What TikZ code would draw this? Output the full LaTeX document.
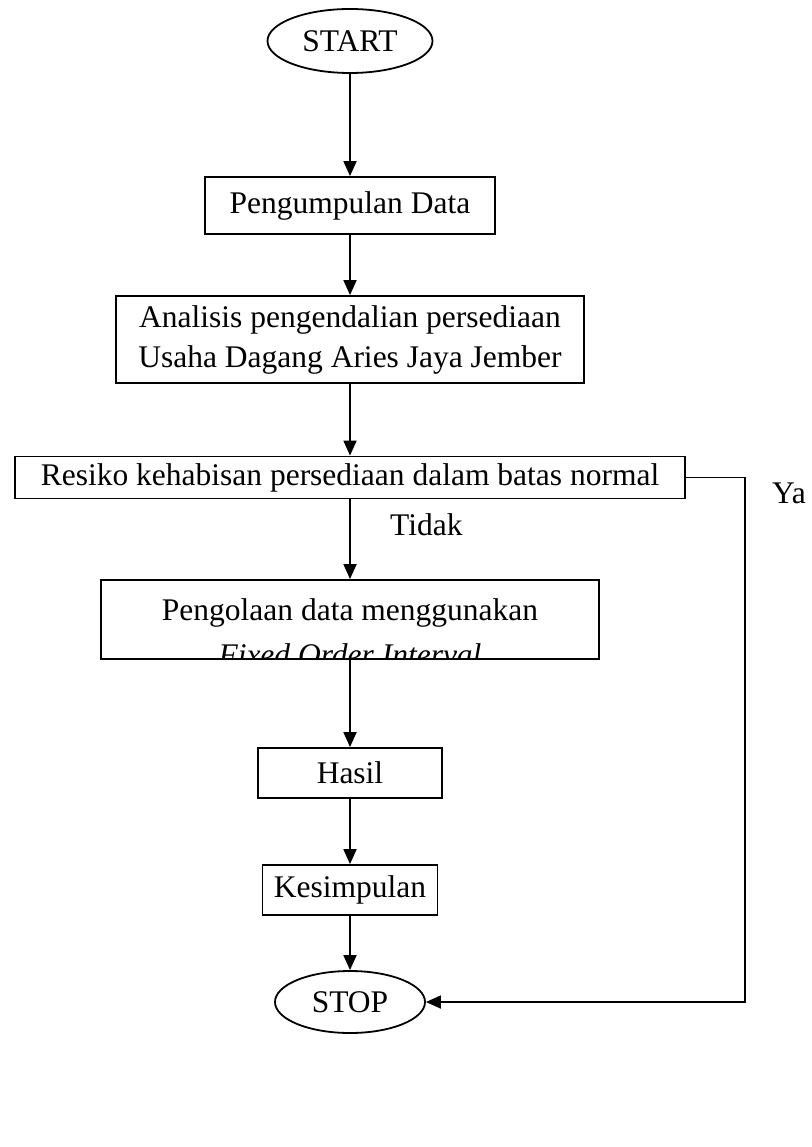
\documentclass[tikz,border=0pt]{standalone}
\usepackage{fontspec}
\setmainfont{Liberation Serif}
\usetikzlibrary{arrows.meta,shapes.geometric}
\begin{document}
\begin{tikzpicture}[x=1pt,y=-1pt,
  txt/.style={font=\fontsize{31.5}{40}\selectfont},
  box/.style={txt,draw,line width=1.8pt,rectangle,inner sep=0pt},
  term/.style={txt,draw,line width=1.8pt,ellipse,inner sep=0pt},
  lbl/.style={txt,inner sep=0pt},
  arr/.style={line width=1.8pt,-{Triangle[length=15pt,width=13pt]}},
]
\useasboundingbox[fill=white] (0,0) rectangle (811,1147);

\node[term,minimum width=165pt,minimum height=64pt] (start) at (350,41) {START};
\node[box,minimum width=290pt,minimum height=57pt] (kumpul) at (350,205.5) {Pengumpulan Data};
\node[box,minimum width=468pt,minimum height=87pt,align=center] (analisis) at (350,339.5) {Analisis pengendalian persediaan\\Usaha Dagang Aries Jaya Jember};
\node[box,minimum width=670pt,minimum height=42pt] (resiko) at (350,477.5) {Resiko kehabisan persediaan dalam batas normal};
\node[box,minimum width=498pt,minimum height=79pt] (olah) at (350,619.5) {};
\begin{scope}
\clip (olah.south west) rectangle (olah.north east);
\node[lbl,anchor=base] (olah1) at (350,620) {Pengolaan data menggunakan};
\node[lbl,anchor=base,font=\fontsize{31.5}{40}\selectfont\itshape] (olah2) at (350,665) {Fixed Order Interval};
\end{scope}
\node[box,minimum width=184pt,minimum height=50pt] (hasil) at (350,773) {Hasil};
\node[box,minimum width=175pt,minimum height=50pt] (kesimpulan) at (350,890) {Kesimpulan};
\node[term,minimum width=150pt,minimum height=62pt] (stop) at (350,1002) {STOP};

\node[lbl,anchor=west] (tidak) at (390,525) {Tidak};
\node[lbl,anchor=west] (ya) at (772,493) {Ya};

\draw[arr] (start.south) -- (kumpul.north);
\draw[arr] (kumpul.south) -- (analisis.north);
\draw[arr] (analisis.south) -- (resiko.north);
\draw[arr] (resiko.south) -- (olah.north);
\draw[arr] (olah.south) -- (hasil.north);
\draw[arr] (hasil.south) -- (kesimpulan.north);
\draw[arr] (kesimpulan.south) -- (stop.north);

\coordinate (ya1) at (745,477.5);
\coordinate (ya2) at (745,1002);
\draw[arr] (resiko.east) -- (ya1) -- (ya2) -- (stop.east);
\end{tikzpicture}
\end{document}
